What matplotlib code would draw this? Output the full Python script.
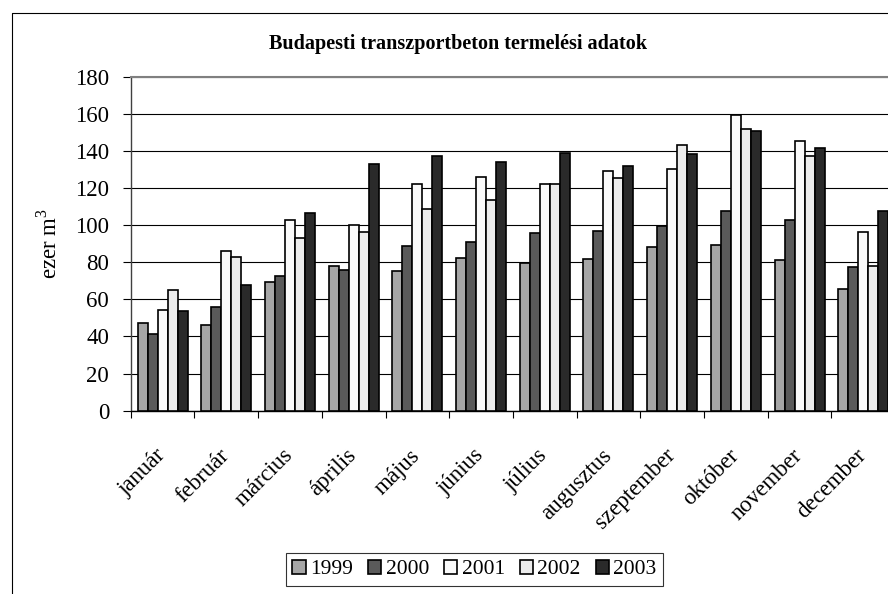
import numpy as np
import matplotlib
matplotlib.use('Agg')
from matplotlib import pyplot as plt
from matplotlib.lines import Line2D
from matplotlib.font_manager import FontProperties

plt.rcParams['font.family'] = ['Liberation Serif', 'DejaVu Serif']
plt.rcParams['mathtext.fontset'] = 'custom'
plt.rcParams['mathtext.rm'] = 'Liberation Serif'

months = ['január', 'február', 'március', 'április', 'május', 'június',
          'július', 'augusztus', 'szeptember', 'október', 'november', 'december']
years = ['1999', '2000', '2001', '2002', '2003']

v1999 = [47, 46, 69.5, 78, 75.5, 82.3, 79.4, 82, 88.4, 89.1, 81.4, 65.4]
v2000 = [41.3, 56, 72.8, 75.8, 89, 91, 96, 97, 99.5, 107.6, 102.8, 77.3]
v2001 = [54.3, 86, 102.8, 100.2, 122.3, 126, 122.3, 129, 130, 159.4, 145.3, 96.3]
v2002 = [65, 82.7, 93.2, 96.5, 108.7, 113.7, 122, 125.6, 143.4, 151.6, 137.3, 77.8]
v2003 = [53.7, 68, 106.5, 133, 137.4, 134.2, 138.9, 132, 138.3, 150.6, 141.4, 107.6]
series = [v1999, v2000, v2001, v2002, v2003]
colors = ['#a6a6a6', '#5a5a5a', '#fafafa', '#ececec', '#2a2a2a']

W, H = 888, 594
fig = plt.figure(figsize=(W / 100, H / 100), dpi=100)
ax = fig.add_axes([130.7 / W, 1 - 410.7 / H, 764.4 / W, 334 / H])

x = np.arange(len(months))
bw = 0.157
for i, (vals, c) in enumerate(zip(series, colors)):
    ax.bar(x + (i - 2) * bw, vals, bw, color=c, edgecolor='black',
           linewidth=1.2, label=years[i], zorder=3)

fs = 16.5
ax.set_xlim(-0.5, 11.5)
ax.set_ylim(0, 180)
ax.set_yticks(range(0, 181, 20))
ax.yaxis.grid(True, color='black', linewidth=0.8, zorder=0)
ax.tick_params(axis='y', labelsize=fs, length=5.5, width=0.8, pad=10)

ax.set_xticks(x)
ax.set_xticklabels(months, rotation=45, ha='right', va='center',
                   rotation_mode='anchor', fontsize=fs)
ax.set_xticks(np.arange(-0.5, 12, 1), minor=True)
ax.tick_params(axis='x', which='major', length=0, pad=30)
ax.tick_params(axis='x', which='minor', length=5, width=0.8)

ax.spines['right'].set_visible(False)
ax.spines['top'].set_color('#808080')
ax.spines['top'].set_linewidth(1.5)
ax.spines['left'].set_color('#404040')
ax.spines['left'].set_linewidth(1.0)
ax.spines['bottom'].set_linewidth(1.0)

ax.set_ylabel(r'ezer m$^{3}$', fontsize=fs, labelpad=10)

fig.text(457.5 / W, 1 - 44 / H, 'Budapesti transzportbeton termelési adatok',
         ha='center', va='center', fontsize=14.5, fontweight='bold')

leg = fig.legend(loc='center', bbox_to_anchor=(474.5 / W, 1 - 569.5 / H),
                 ncol=5, prop=FontProperties(family='Liberation Serif', size=15.5),
                 frameon=True, fancybox=False,
                 handlelength=0.62, handleheight=0.62, handletextpad=0.2,
                 columnspacing=0.7, borderpad=0.3, borderaxespad=0,
                 edgecolor='black')
leg.get_frame().set_linewidth(0.8)

# outer chart frame (cut off at right and bottom)
fig.add_artist(Line2D([12 / W, 12 / W, 1], [0, 1 - 13 / H, 1 - 13 / H],
                      transform=fig.transFigure, color='black', linewidth=0.8))

fig.savefig('out.png', dpi=100)
